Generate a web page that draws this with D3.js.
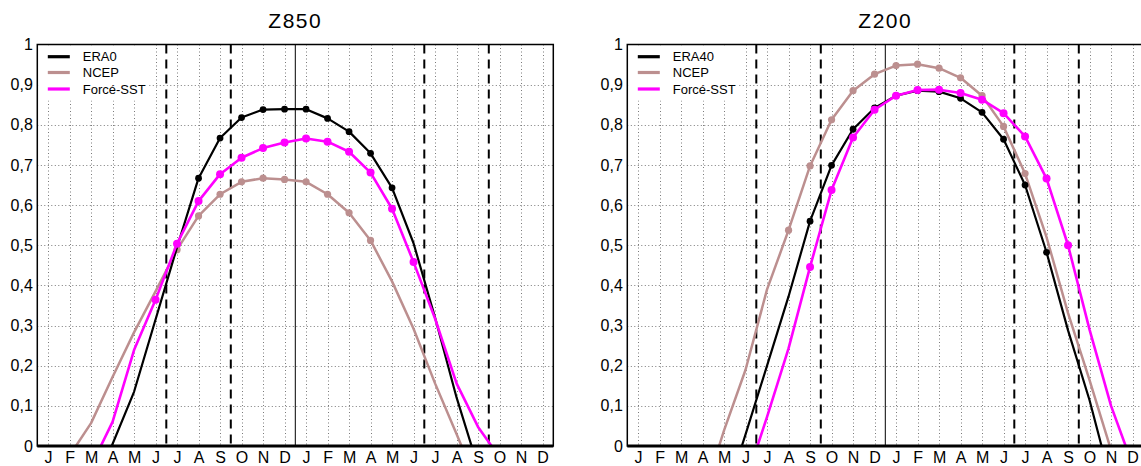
<!DOCTYPE html>
<html>
<head>
<meta charset="utf-8">
<script src="https://cdn.jsdelivr.net/npm/d3@7"></script>
<style>
  html, body { margin: 0; padding: 0; background: #fff; }
  svg { display: block; font-family: "Liberation Sans", Arial, Helvetica, sans-serif; }
</style>
</head>
<body>
<svg id="chart" width="1141" height="466"></svg>
<script>
// ---------------- DATA ----------------
const monthLabels = ["J","F","M","A","M","J","J","A","S","O","N","D",
                     "J","F","M","A","M","J","J","A","S","O","N","D"];
const yTickValues = [0,0.1,0.2,0.3,0.4,0.5,0.6,0.7,0.8,0.9,1];
const yTickLabels = ["0","0,1","0,2","0,3","0,4","0,5","0,6","0,7","0,8","0,9","1"];
const dashedMonths = [6, 9, 18, 21];
const centerMonth = 12;

// Z850
const z850Title = "Z850";
const z850Names = ["ERA0", "NCEP", "Forcé-SST"];
const z850Era  = [null, null, -0.12, 0.005, 0.135, 0.315, 0.495, 0.667, 0.767, 0.818, 0.838, 0.839,
                  0.839, 0.816, 0.783, 0.729, 0.643, 0.505, 0.32, 0.121, -0.052, null, null, null];
const z850Ncep = [null, -0.024, 0.057, 0.172, 0.283, 0.385, 0.489, 0.573, 0.627, 0.658, 0.667, 0.664,
                  0.658, 0.627, 0.581, 0.512, 0.41, 0.292, 0.156, 0.03, -0.1, null, null, null];
const z850Sst  = [null, null, -0.05, 0.06, 0.239, 0.364, 0.504, 0.61, 0.677, 0.718, 0.742, 0.756,
                  0.766, 0.758, 0.733, 0.681, 0.591, 0.458, 0.3175, 0.156, 0.0475, -0.028, null, null];
// months carrying a marker: [first, last]
const z850EraDots  = [7, 16];
const z850NcepDots = [6, 15];
const z850SstDots  = [5, 17];

// Z200
const z200Title = "Z200";
const z200Names = ["ERA40", "NCEP", "Forcé-SST"];
const z200Era  = [null, null, null, null, -0.14, 0.029, 0.2, 0.3725, 0.56, 0.699, 0.789, 0.842,
                  0.8725, 0.885, 0.8826, 0.866, 0.831, 0.764, 0.65, 0.4825, 0.288, 0.114, -0.09, null];
const z200Ncep = [null, null, null, -0.13, 0.039, 0.19, 0.39, 0.5375, 0.6975, 0.8125, 0.885, 0.926,
                  0.9475, 0.951, 0.941, 0.917, 0.8725, 0.796, 0.6785, 0.52, 0.331, 0.164, -0.01, null];
const z200Sst  = [null, null, null, null, null, -0.09, 0.0725, 0.243, 0.446, 0.6375, 0.7685, 0.8375,
                  0.8725, 0.8868, 0.8875, 0.879, 0.8625, 0.829, 0.771, 0.666, 0.5, 0.29, 0.1, -0.047];
const z200EraDots  = [8, 19];
const z200NcepDots = [7, 18];
const z200SstDots  = [8, 20];

// ---------------- STYLE ----------------
const colEra = "#000000", colNcep = "#bc8f8f", colSst = "#ff00ff";
const svg = d3.select("#chart");
const yTop = 44.5, yBot = 446;

function panel(x0, x1, title, names, era, ncep, sst, eraDots, ncepDots, sstDots, id) {
  const g = svg.append("g");
  const x = d3.scaleLinear().domain([0, 24]).range([x0, x1]);
  const y = d3.scaleLinear().domain([0, 1]).range([yBot, yTop]);
  const xc = i => x(i + 0.5);

  g.append("clipPath").attr("id", "clip" + id)
    .append("rect").attr("x", x0).attr("y", yTop).attr("width", x1 - x0).attr("height", yBot - yTop);

  // grid
  const grid = g.append("g").attr("stroke", "#7a7a7a").attr("stroke-width", 1).attr("stroke-dasharray", "1,2.5");
  grid.selectAll(".vg").data(d3.range(24)).join("line")
    .attr("x1", d => Math.round(xc(d)) + 0.5).attr("x2", d => Math.round(xc(d)) + 0.5)
    .attr("y1", yTop).attr("y2", yBot);
  grid.selectAll(".hg").data(yTickValues.slice(1, 10)).join("line")
    .attr("x1", x0).attr("x2", x1)
    .attr("y1", d => Math.round(y(d)) + 0.5).attr("y2", d => Math.round(y(d)) + 0.5);

  // legend background
  g.append("rect").attr("x", x0 + 1).attr("y", yTop + 1).attr("width", 110).attr("height", 55).attr("fill", "#fff");

  // vertical separators
  g.selectAll(".dash").data(dashedMonths).join("line")
    .attr("x1", d => x(d)).attr("x2", d => x(d)).attr("y1", yTop).attr("y2", yBot)
    .attr("stroke", "#000").attr("stroke-width", 2).attr("stroke-dasharray", "9,6");
  g.append("line").attr("x1", x(centerMonth)).attr("x2", x(centerMonth)).attr("y1", yTop).attr("y2", yBot)
    .attr("stroke", "#000").attr("stroke-width", 1);

  const line = d3.line().defined(d => d != null).x((d, i) => xc(i)).y(d => y(d));
  const series = [
    {vals: ncep, col: colNcep, dots: ncepDots, w: 2.5, r: 3.6},
    {vals: era,  col: colEra,  dots: eraDots,  w: 2.2, r: 3.4},
    {vals: sst,  col: colSst,  dots: sstDots,  w: 2.6, r: 4.0}
  ];
  const plot = g.append("g").attr("clip-path", `url(#clip${id})`);
  series.forEach(s => {
    plot.append("path").attr("d", line(s.vals)).attr("fill", "none")
      .attr("stroke", s.col).attr("stroke-width", s.w).attr("stroke-linejoin", "round");
    const pts = d3.range(s.dots[0], s.dots[1] + 1);
    plot.selectAll(null).data(pts).join("circle")
      .attr("cx", i => xc(i)).attr("cy", i => y(s.vals[i])).attr("r", s.r).attr("fill", s.col);
  });

  // frame
  g.append("rect").attr("x", x0).attr("y", yTop).attr("width", x1 - x0).attr("height", yBot - yTop)
    .attr("fill", "none").attr("stroke", "#000").attr("stroke-width", 1.5);
  g.append("line").attr("x1", x0).attr("x2", x1).attr("y1", yBot).attr("y2", yBot)
    .attr("stroke", "#000").attr("stroke-width", 3);

  // axes labels
  const xAxis = d3.axisBottom(x).tickValues(d3.range(24).map(i => i + 0.5))
    .tickFormat((d, i) => monthLabels[i]).tickSize(0).tickPadding(6);
  const xa = g.append("g").attr("transform", `translate(0,${yBot})`).call(xAxis);
  xa.select(".domain").remove();
  xa.selectAll("text").attr("font-size", 16).attr("font-family", "Liberation Sans, Arial, sans-serif").attr("fill", "#000");

  const yAxis = d3.axisLeft(y).tickValues(yTickValues).tickFormat((d, i) => yTickLabels[i]).tickSize(0).tickPadding(4.5);
  const ya = g.append("g").attr("transform", `translate(${x0},0)`).call(yAxis);
  ya.select(".domain").remove();
  ya.selectAll("text").attr("font-size", 16).attr("font-family", "Liberation Sans, Arial, sans-serif").attr("fill", "#000");

  // title
  g.append("text").attr("x", (x0 + x1) / 2).attr("y", 28).attr("text-anchor", "middle")
    .attr("font-size", 21).attr("letter-spacing", "1.5px").text(title);

  // legend
  const lcols = [colEra, colNcep, colSst];
  const ly = [56.7, 72.5, 89];
  names.forEach((n, k) => {
    g.append("line").attr("x1", x0 + 10.5).attr("x2", x0 + 32.5).attr("y1", ly[k]).attr("y2", ly[k])
      .attr("stroke", lcols[k]).attr("stroke-width", 3.2);
    g.append("text").attr("x", x0 + 45.5).attr("y", ly[k]).attr("dy", "0.35em")
      .attr("font-size", 13).text(n);
  });
}

panel(37.3, 553.3, z850Title, z850Names, z850Era, z850Ncep, z850Sst, z850EraDots, z850NcepDots, z850SstDots, "a");
panel(627.3, 1143.3, z200Title, z200Names, z200Era, z200Ncep, z200Sst, z200EraDots, z200NcepDots, z200SstDots, "b");
</script>
</body>
</html>
